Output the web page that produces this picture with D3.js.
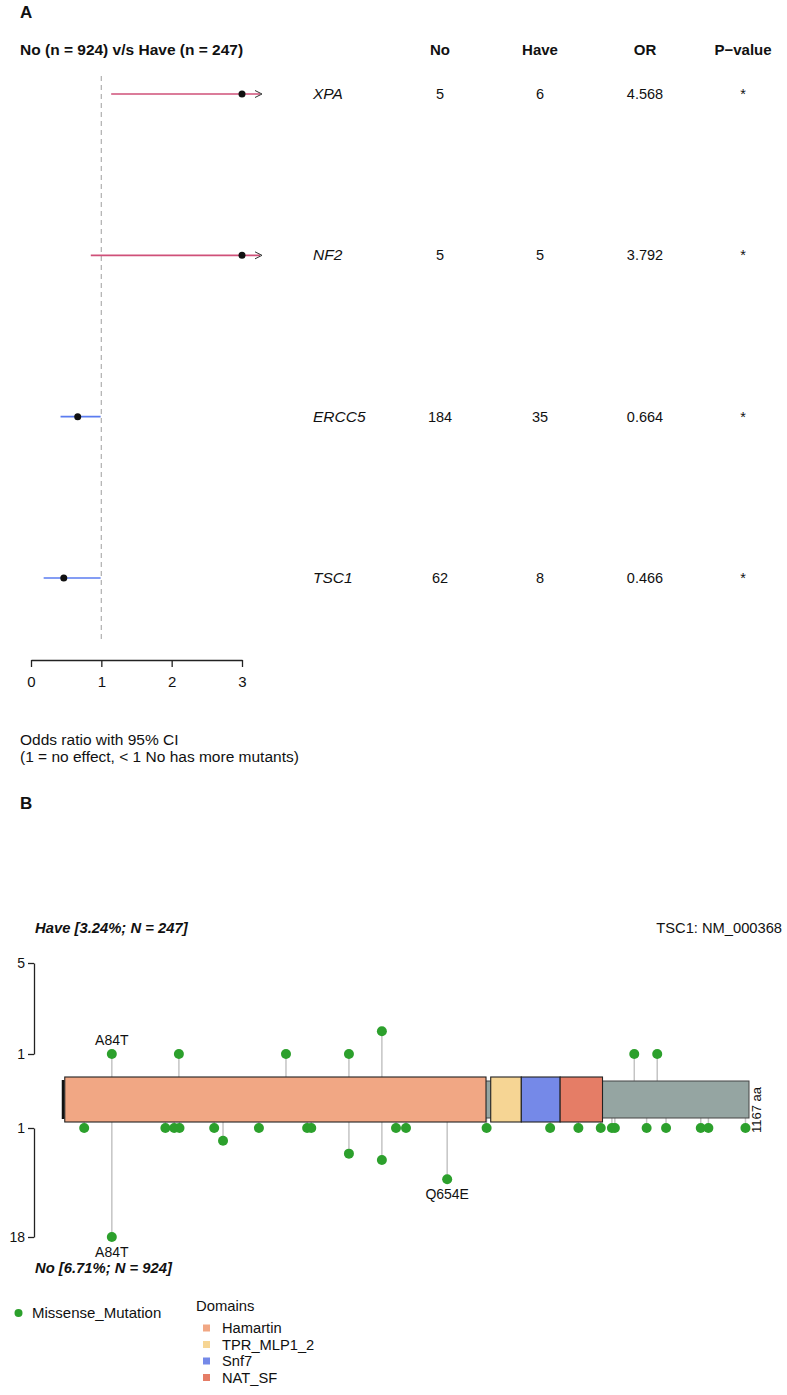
<!DOCTYPE html>
<html>
<head>
<meta charset="utf-8">
<script src="https://cdn.jsdelivr.net/npm/d3@7"></script>
<style>
  body { margin: 0; background: #fff; }
  text { font-family: "Liberation Sans", Arial, sans-serif; fill: #111; }
</style>
</head>
<body>
<script>
// ---- panel A data (forest plot)
var genes = ["XPA", "NF2", "ERCC5", "TSC1"];
var orValues = [4.568, 3.792, 0.664, 0.466];
var ciLow = [1.14, 0.85, 0.42, 0.18];
var ciHigh = [20, 16, 0.99, 0.99];
var noCounts = [5, 5, 184, 62];
var haveCounts = [6, 5, 35, 8];
var pLabels = ["*", "*", "*", "*"];
var orTicks = [0, 1, 2, 3];

// ---- panel B data (lollipop, TSC1)
var proteinLength = 1167;
var domainNames = ["Hamartin", "TPR_MLP1_2", "Snf7", "NAT_SF"];
var domainStart = [4, 728, 780, 846];
var domainEnd = [720, 780, 846, 918];
var domainColors = ["#f1a784", "#f6d594", "#7589e8", "#e57d66"];
// mutations in "Have" group (upper)
var havePos = [84, 198, 380, 487, 543, 972, 1011];
var haveCount = [1, 1, 1, 1, 2, 1, 1];
// mutations in "No" group (lower)
var noPos = [37, 175, 190, 199, 258, 334, 416, 423, 567, 584, 721, 829, 877, 915, 934, 939, 993, 1026, 1085, 1098, 1161,
             273, 487, 543, 654, 84];
var noCount = [1, 1, 1, 1, 1, 1, 1, 1, 1, 1, 1, 1, 1, 1, 1, 1, 1, 1, 1, 1, 1,
               3, 5, 6, 9, 18];
var haveLabels = [{ pos: 84, label: "A84T" }];
var noLabels = [{ pos: 84, label: "A84T" }, { pos: 654, label: "Q654E" }];

var width = 787, height = 1395;
var svg = d3.select("body").append("svg")
  .attr("width", width)
  .attr("height", height);

// ================= panel A
svg.append("text").attr("x", 20).attr("y", 18)
  .style("font-size", "17px").style("font-weight", "bold").text("A");

svg.append("text").attr("x", 20).attr("y", 55)
  .style("font-size", "15.5px").style("font-weight", "bold")
  .text("No (n = 924) v/s Have (n = 247)");

var colX = { no: 440, have: 540, or: 645, p: 743 };
[["No", colX.no], ["Have", colX.have], ["OR", colX.or], ["P\u2212value", colX.p]].forEach(function (h) {
  svg.append("text").attr("x", h[1]).attr("y", 55)
    .attr("text-anchor", "middle")
    .style("font-size", "15px").style("font-weight", "bold")
    .text(h[0]);
});

var xOR = d3.scaleLinear().domain([0, 3]).range([31, 242]);
var yRow = d3.scalePoint().domain(genes).range([94, 578]);

// reference line at OR = 1
svg.append("line")
  .attr("x1", xOR(1)).attr("x2", xOR(1))
  .attr("y1", 76).attr("y2", 640)
  .attr("stroke", "#b5b5b5").attr("stroke-width", 1.3)
  .attr("stroke-dasharray", "5,4");

var arrowExtra = 18;
genes.forEach(function (g, i) {
  var y = yRow(g);
  var col = orValues[i] > 1 ? "#cf5079" : "#5b7cf0";
  var over = ciHigh[i] > 3;
  var xEnd = over ? xOR(3) + arrowExtra : xOR(ciHigh[i]);
  svg.append("line")
    .attr("x1", xOR(ciLow[i])).attr("x2", xEnd)
    .attr("y1", y).attr("y2", y)
    .attr("stroke", col).attr("stroke-width", 1.6);
  if (over) {
    svg.append("path")
      .attr("d", "M" + (xEnd - 5) + "," + (y - 3.5) + "L" + (xEnd + 2) + "," + y + "L" + (xEnd - 5) + "," + (y + 3.5))
      .attr("fill", "none").attr("stroke", "#333").attr("stroke-width", 1);
  }
  svg.append("circle")
    .attr("cx", xOR(Math.min(orValues[i], 3))).attr("cy", y)
    .attr("r", 3.5).attr("fill", "#111");

  svg.append("text").attr("x", 313).attr("y", y + 5)
    .style("font-size", "15.5px").style("font-style", "italic").text(g);
  svg.append("text").attr("x", colX.no).attr("y", y + 5).attr("text-anchor", "middle")
    .style("font-size", "14.5px").text(noCounts[i]);
  svg.append("text").attr("x", colX.have).attr("y", y + 5).attr("text-anchor", "middle")
    .style("font-size", "14.5px").text(haveCounts[i]);
  svg.append("text").attr("x", colX.or).attr("y", y + 5).attr("text-anchor", "middle")
    .style("font-size", "14.5px").text(orValues[i].toFixed(3));
  svg.append("text").attr("x", colX.p).attr("y", y + 5).attr("text-anchor", "middle")
    .style("font-size", "14.5px").text(pLabels[i]);
});

var orAxis = svg.append("g")
  .attr("transform", "translate(0,660)")
  .call(d3.axisBottom(xOR).tickValues(orTicks).tickFormat(d3.format("d")).tickSize(7).tickSizeOuter(0));
orAxis.select(".domain").attr("stroke", "#222").attr("stroke-width", 1.3);
orAxis.selectAll(".tick line").attr("stroke", "#222").attr("stroke-width", 1.3);
orAxis.selectAll(".tick text").attr("dy", "1.1em")
  .style("font-size", "15px").style("font-family", "Liberation Sans, Arial, sans-serif").attr("fill", "#111");

svg.append("text").attr("x", 20).attr("y", 745)
  .style("font-size", "15.5px").text("Odds ratio with 95% CI");
svg.append("text").attr("x", 20).attr("y", 762)
  .style("font-size", "15.5px").text("(1 = no effect, < 1 No has more mutants)");

// ================= panel B
svg.append("text").attr("x", 20).attr("y", 809)
  .style("font-size", "17px").style("font-weight", "bold").text("B");

svg.append("text").attr("x", 35).attr("y", 933)
  .style("font-size", "14.8px").style("font-weight", "bold").style("font-style", "italic")
  .text("Have [3.24%; N = 247]");
svg.append("text").attr("x", 782).attr("y", 933).attr("text-anchor", "end")
  .style("font-size", "14.7px").text("TSC1: NM_000368");
svg.append("text").attr("x", 35).attr("y", 1273)
  .style("font-size", "14.8px").style("font-weight", "bold").style("font-style", "italic")
  .text("No [6.71%; N = 924]");

var xAA = d3.scaleLinear().domain([1, proteinLength]).range([63, 749]);
var yTop = d3.scaleLinear().domain([1, 5]).range([1054, 963]);
var yBot = d3.scaleLinear().domain([1, 18]).range([1128, 1237]);

var protMid = 1099.5;
var backTop = 1081, backBot = 1118;
var domTop = 1077, domBot = 1122;

function styleAxis(g) {
  g.select(".domain").attr("stroke", "#222").attr("stroke-width", 1.3);
  g.selectAll(".tick line").attr("stroke", "#222").attr("stroke-width", 1.3);
  g.selectAll(".tick text").style("font-size", "14px")
    .style("font-family", "Liberation Sans, Arial, sans-serif").attr("fill", "#111");
}
svg.append("g").attr("transform", "translate(34,0)")
  .call(d3.axisLeft(yTop).tickValues([1, 5]).tickSize(6).tickSizeOuter(0).tickFormat(d3.format("d")))
  .call(styleAxis);
svg.append("g").attr("transform", "translate(34,0)")
  .call(d3.axisLeft(yBot).tickValues([1, 18]).tickSize(6).tickSizeOuter(0).tickFormat(d3.format("d")))
  .call(styleAxis);

// stems
svg.selectAll(".stemTop").data(havePos).enter().append("line")
  .attr("x1", d => xAA(d)).attr("x2", d => xAA(d))
  .attr("y1", protMid).attr("y2", (d, i) => yTop(haveCount[i]))
  .attr("stroke", "#c4c4c4").attr("stroke-width", 1.5);
svg.selectAll(".stemBot").data(noPos).enter().append("line")
  .attr("x1", d => xAA(d)).attr("x2", d => xAA(d))
  .attr("y1", protMid).attr("y2", (d, i) => yBot(noCount[i]))
  .attr("stroke", "#c4c4c4").attr("stroke-width", 1.5);

// protein backbone
svg.append("rect")
  .attr("x", xAA(1)).attr("width", xAA(proteinLength) - xAA(1))
  .attr("y", backTop).attr("height", backBot - backTop)
  .attr("fill", "#95a5a2").attr("stroke", "#444").attr("stroke-width", 1);
svg.append("line")
  .attr("x1", xAA(1)).attr("x2", xAA(1)).attr("y1", domTop + 3).attr("y2", domBot - 3)
  .attr("stroke", "#111").attr("stroke-width", 2.5);

// domains
svg.selectAll(".domain-rect").data(domainNames).enter().append("rect")
  .attr("x", (d, i) => xAA(domainStart[i]))
  .attr("width", (d, i) => xAA(domainEnd[i]) - xAA(domainStart[i]))
  .attr("y", domTop).attr("height", domBot - domTop)
  .attr("fill", (d, i) => domainColors[i])
  .attr("stroke", "#222").attr("stroke-width", 1.1);

// heads
var green = "#2ca02c";
svg.selectAll(".headTop").data(havePos).enter().append("circle")
  .attr("cx", d => xAA(d)).attr("cy", (d, i) => yTop(haveCount[i]))
  .attr("r", 5).attr("fill", green);
svg.selectAll(".headBot").data(noPos).enter().append("circle")
  .attr("cx", d => xAA(d)).attr("cy", (d, i) => yBot(noCount[i]))
  .attr("r", 5).attr("fill", green);

haveLabels.forEach(function (l) {
  var i = havePos.indexOf(l.pos);
  svg.append("text").attr("x", xAA(l.pos)).attr("y", yTop(haveCount[i]) - 9)
    .attr("text-anchor", "middle").style("font-size", "14px").text(l.label);
});
noLabels.forEach(function (l) {
  var i = noPos.lastIndexOf(l.pos);
  svg.append("text").attr("x", xAA(l.pos)).attr("y", yBot(noCount[i]) + 20)
    .attr("text-anchor", "middle").style("font-size", "14px").text(l.label);
});

svg.append("text")
  .attr("transform", "translate(" + (xAA(proteinLength) + 12) + "," + 1110 + ") rotate(-90)")
  .attr("text-anchor", "middle")
  .style("font-size", "13px").text(proteinLength + " aa");

// legend
svg.append("circle").attr("cx", 18.5).attr("cy", 1313).attr("r", 4).attr("fill", green);
svg.append("text").attr("x", 32).attr("y", 1318).style("font-size", "15px").text("Missense_Mutation");
svg.append("text").attr("x", 196).attr("y", 1311).style("font-size", "14.8px").text("Domains");
var legY = d3.scalePoint().domain(domainNames).range([1328, 1377.5]);
svg.selectAll(".legRect").data(domainNames).enter().append("rect")
  .attr("x", 203).attr("y", d => legY(d) - 3.5).attr("width", 7).attr("height", 7)
  .attr("fill", (d, i) => domainColors[i]);
svg.selectAll(".legText").data(domainNames).enter().append("text")
  .attr("x", 222).attr("y", d => legY(d) + 5)
  .style("font-size", "14.7px").text(d => d);
</script>
</body>
</html>
